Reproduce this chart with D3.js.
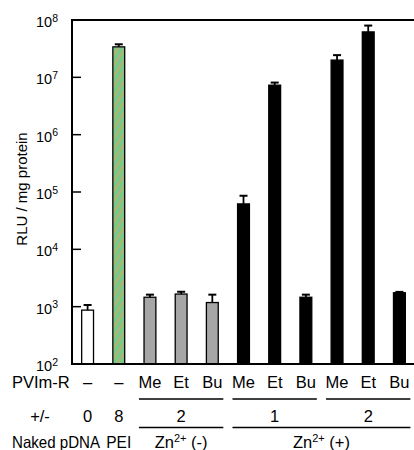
<!DOCTYPE html>
<html><head><meta charset="utf-8">
<script src="https://cdn.jsdelivr.net/npm/d3@7"></script>
<style>body{margin:0;background:#fff}svg{display:block;font-family:"Liberation Sans",Arial,sans-serif}</style>
</head><body><svg id="c" width="414" height="450"></svg>
<script>
const categories = ["Naked pDNA","PEI","Zn(-) Me","Zn(-) Et","Zn(-) Bu","Zn(+) 1 Me","Zn(+) 1 Et","Zn(+) 1 Bu","Zn(+) 2 Me","Zn(+) 2 Et","Zn(+) 2 Bu"];
const values = [870, 3.4e7, 1460, 1660, 1180, 6.2e4, 7.3e6, 1460, 2.0e7, 6.2e7, 1750];
const errors = [200, 3.7e6, 160, 160, 440, 2.4e4, 8e5, 160, 4.4e6, 1.8e7, 60];
const kinds = ["white","hatch","gray","gray","gray","black","black","black","black","black","black"];
const pvimLabels = ["\u2013","\u2013","Me","Et","Bu","Me","Et","Bu","Me","Et","Bu"];
const ratioLabels = ["0","8"];
const ratioGroups = [{label:"2", from:2, to:4},{label:"1", from:5, to:7},{label:"2", from:8, to:10}];
const znGroups = [{label:"(-)", from:2, to:4},{label:"(+)", from:5, to:10}];
const tickExps = [2,3,4,5,6,7,8];

const svg = d3.select("#c");
const L = 72, R = 415, T = 20, B = 364;
const x = d3.scaleBand().domain(categories).range([L, R]).paddingInner(0.62).paddingOuter(0.31);
const y = d3.scaleLog().domain([1e2, 1e8]).range([B, T]);
const cx = i => x(categories[i]) + x.bandwidth()/2;

const defs = svg.append("defs");
const pat = defs.append("pattern").attr("id","hatch").attr("patternUnits","userSpaceOnUse")
  .attr("width",6).attr("height",6).attr("patternTransform","rotate(35)");
pat.append("rect").attr("width",6).attr("height",6).attr("fill","#a6b974");
pat.append("rect").attr("width",3).attr("height",6).attr("fill","#74c98e");

const fills = {white:"#ffffff", hatch:"url(#hatch)", gray:"#a6a6a6", black:"#000000"};

// bars
svg.append("g").selectAll("rect").data(values).join("rect")
  .attr("x",(d,i)=>x(categories[i])).attr("width",x.bandwidth())
  .attr("y",d=>y(d)).attr("height",d=>B-y(d))
  .attr("fill",(d,i)=>fills[kinds[i]]).attr("stroke","#000").attr("stroke-width",1.3);

// error bars
const eg = svg.append("g").attr("stroke","#000").attr("stroke-width",1.8);
values.forEach((v,i)=>{
  const top = y(v+errors[i]);
  eg.append("line").attr("x1",cx(i)).attr("x2",cx(i)).attr("y1",y(v)).attr("y2",top);
  eg.append("line").attr("x1",cx(i)-4).attr("x2",cx(i)+4).attr("y1",top).attr("y2",top).attr("stroke-width",2);
});

// frame
const fg = svg.append("g").attr("stroke","#000").attr("stroke-width",2).attr("fill","none");
fg.append("path").attr("d",`M${R},${T}H${L}V${B}H${R}`);
// ticks inward + labels
const yt = svg.append("g").attr("font-size",14.5);
tickExps.forEach(e=>{
  const yy = y(Math.pow(10,e));
  if(e>2 && e<8) svg.append("line").attr("x1",L).attr("x2",L+9).attr("y1",yy).attr("y2",yy).attr("stroke","#000").attr("stroke-width",1.5);
  const t = yt.append("text").attr("x",L-14).attr("y",yy+7).attr("text-anchor","end");
  t.append("tspan").text("10");
  t.append("tspan").attr("dy",-5.5).attr("font-size",10.5).text(e);
});

// y label
svg.append("text").attr("transform",`translate(27,189) rotate(-90)`)
  .attr("text-anchor","middle").attr("font-size",15).text("RLU / mg protein");

// bottom rows
const fs = 16.5;
const rowA = 388, rowB = 422, rowC = 448;
const tg = svg.append("g").attr("font-size",fs);
tg.append("text").attr("x",12).attr("y",rowA).text("PVIm-R");
pvimLabels.forEach((s,i)=>tg.append("text").attr("x",cx(i)).attr("y",rowA).attr("text-anchor","middle").text(s));
tg.append("text").attr("x",40).attr("y",rowB).attr("text-anchor","middle").text("+/-");
ratioLabels.forEach((s,i)=>tg.append("text").attr("x",cx(i)).attr("y",rowB).attr("text-anchor","middle").text(s));
ratioGroups.forEach(g=>{
  const a = cx(g.from)-11, b = cx(g.to)+11;
  svg.append("line").attr("x1",a).attr("x2",b).attr("y1",399).attr("y2",399).attr("stroke","#000").attr("stroke-width",1.6);
  tg.append("text").attr("x",(cx(g.from)+cx(g.to))/2).attr("y",rowB).attr("text-anchor","middle").text(g.label);
});
tg.append("text").attr("x",12).attr("y",rowC).attr("textLength",88).attr("lengthAdjust","spacingAndGlyphs").text("Naked pDNA");
tg.append("text").attr("x",cx(1)).attr("y",rowC).attr("text-anchor","middle").attr("textLength",25).attr("lengthAdjust","spacingAndGlyphs").text("PEI");
znGroups.forEach(g=>{
  const a = cx(g.from)-11, b = cx(g.to)+11;
  svg.append("line").attr("x1",a).attr("x2",b).attr("y1",427.5).attr("y2",427.5).attr("stroke","#000").attr("stroke-width",1.6);
  const t = tg.append("text").attr("x",(cx(g.from)+cx(g.to))/2).attr("y",rowC).attr("text-anchor","middle");
  t.append("tspan").text("Zn");
  t.append("tspan").attr("dy",-6).attr("font-size",11).text("2+");
  t.append("tspan").attr("dy",6).text(" " + g.label);
});
</script></body></html>
